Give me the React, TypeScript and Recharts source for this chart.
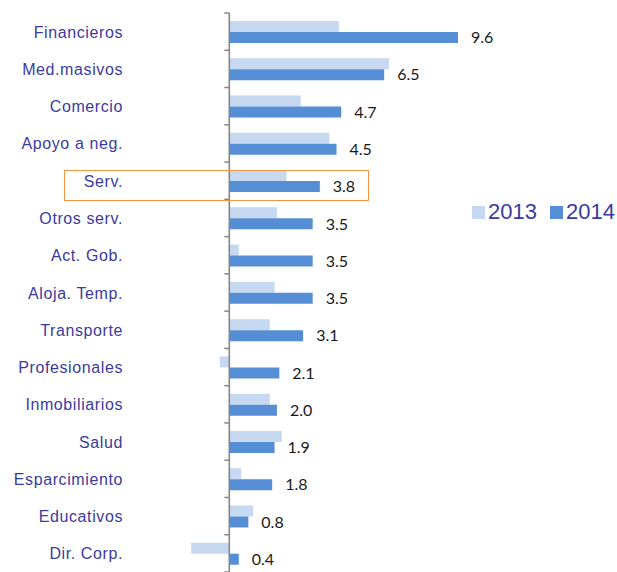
import { Bar, BarChart, LabelList, ReferenceLine, XAxis, YAxis } from "recharts";

const categories = [
  "Financieros",
  "Med.masivos",
  "Comercio",
  "Apoyo a neg.",
  "Serv.",
  "Otros serv.",
  "Act. Gob.",
  "Aloja. Temp.",
  "Transporte",
  "Profesionales",
  "Inmobiliarios",
  "Salud",
  "Esparcimiento",
  "Educativos",
  "Dir. Corp.",
];
const v2013 = [4.6, 6.7, 3.0, 4.2, 2.4, 2.0, 0.4, 1.9, 1.7, -0.4, 1.7, 2.2, 0.5, 1.0, -1.6];
const v2014 = [9.6, 6.5, 4.7, 4.5, 3.8, 3.5, 3.5, 3.5, 3.1, 2.1, 2.0, 1.9, 1.8, 0.8, 0.4];
const series = ["2013", "2014"];

const C13 = "#c6d9f1";
const C14 = "#558ed5";
const AXIS = "#868686";
const TXT = "#3b3b9e";

const W = 617;
const H = 572;
const M = { top: 13, right: 78, bottom: 0, left: 0 };
const YW = 134;
const DOMAIN: [number, number] = [-4, 13];
const PLOT_W = W - M.right - M.left - YW;
const PLOT_H = H - M.top - M.bottom;
const ZERO_X = M.left + YW + ((0 - DOMAIN[0]) * PLOT_W) / (DOMAIN[1] - DOMAIN[0]);
const BAND = PLOT_H / categories.length;

const rows = categories.map((name, i) => ({ name, a: v2013[i], b: v2014[i] }));

function CatTick(props: any) {
  const { x, y, payload, index } = props;
  const last = index === categories.length - 1;
  return (
    <g>
      <text
        x={x}
        y={y}
        dy={6}
        textAnchor="end"
        fill={TXT}
        fontSize={16}
        letterSpacing={0.6}
        fontFamily="'Liberation Sans', Arial, sans-serif"
      >
        {payload.value}
      </text>
      <line x1={ZERO_X - 5} x2={ZERO_X} y1={y - BAND / 2} y2={y - BAND / 2} stroke={AXIS} strokeWidth={1.5} />
      {last && (
        <line x1={ZERO_X - 5} x2={ZERO_X} y1={y + BAND / 2} y2={y + BAND / 2} stroke={AXIS} strokeWidth={1.5} />
      )}
    </g>
  );
}

export default function App() {
  return (
    <div style={{ position: "fixed", left: 0, top: 0, width: W, height: H, background: "#fff" }}>
      <BarChart width={W} height={H} data={rows} layout="vertical" margin={M} barGap={0}>
        <XAxis type="number" domain={DOMAIN} hide />
        <YAxis
          type="category"
          dataKey="name"
          width={YW}
          axisLine={false}
          tickLine={false}
          tickMargin={5}
          interval={0}
          tick={<CatTick />}
        />
        <Bar dataKey="a" name={series[0]} fill={C13} barSize={11} isAnimationActive={false} />
        <Bar dataKey="b" name={series[1]} fill={C14} barSize={11} isAnimationActive={false}>
          <LabelList
            dataKey="b"
            position="right"
            offset={13}
            fill="#1a1a1a"
            fontSize={16}
            fontFamily="Lato, 'Open Sans', sans-serif"
            formatter={(v: any) => Number(v).toFixed(1)}
          />
        </Bar>
        <ReferenceLine x={0} stroke={AXIS} strokeWidth={1.6} ifOverflow="extendDomain" />
      </BarChart>
      <div
        style={{
          position: "absolute",
          left: 64,
          top: 170,
          width: 303,
          height: 29,
          border: "1px solid #f79646",
          pointerEvents: "none",
        }}
      />
      <div
        style={{
          position: "absolute",
          left: 472,
          top: 200,
          display: "flex",
          alignItems: "center",
          fontFamily: "'Liberation Sans', Arial, sans-serif",
          fontSize: 22,
          color: TXT,
          lineHeight: "24px",
        }}
      >
        {series.map((s, i) => (
          <div key={s} style={{ display: "flex", alignItems: "center", marginRight: i === 0 ? 13 : 0 }}>
            <span style={{ width: 13, height: 13, background: i === 0 ? C13 : C14, marginRight: 3, display: "inline-block" }} />
            <span>{s}</span>
          </div>
        ))}
      </div>
    </div>
  );
}
